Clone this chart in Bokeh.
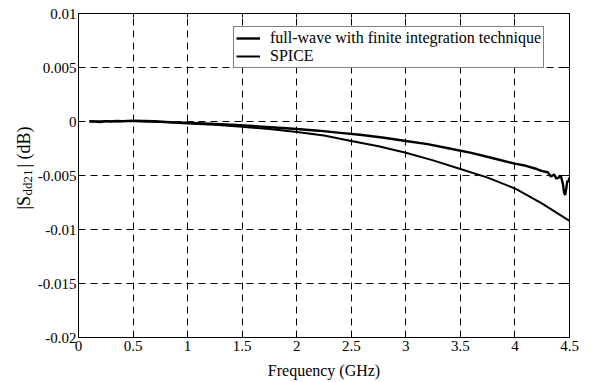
import math
from bokeh.plotting import figure
from bokeh.layouts import row
from bokeh.models import Legend, LegendItem, Label, FixedTicker, LinearAxis
from bokeh.embed import file_html
from bokeh.resources import INLINE

# Full-wave (finite integration technique) |Sdd21| in dB
fw_freq = [0.10, 0.15, 0.20, 0.25, 0.30, 0.35, 0.40, 0.50, 0.60, 0.70, 0.80, 0.90,
           1.00, 1.20, 1.40, 1.60, 1.80, 2.00, 2.20, 2.40, 2.60, 2.80, 3.00, 3.20,
           3.40, 3.60, 3.80, 4.00, 4.10, 4.20, 4.25, 4.30, 4.33, 4.36, 4.38, 4.40,
           4.42, 4.44, 4.45, 4.46, 4.47, 4.48, 4.49, 4.50]
fw_db = [0.00002, 0.00000, -0.00005, 0.00003, 0.00000, 0.00005, 0.00003, 0.00008,
         0.00005, 0.00002, -0.00003, -0.00008, -0.00012, -0.00020, -0.00030, -0.00042,
         -0.00055, -0.00070, -0.00085, -0.00105, -0.00125, -0.00150, -0.00180, -0.00210,
         -0.00250, -0.00290, -0.00340, -0.00390, -0.00410, -0.00440, -0.00460, -0.00470,
         -0.00510, -0.00490, -0.00530, -0.00520, -0.00500, -0.00580, -0.00660, -0.00680,
         -0.00620, -0.00550, -0.00560, -0.00520]

# SPICE |Sdd21| in dB
sp_freq = [0.10, 0.30, 0.50, 0.75, 1.00, 1.25, 1.50, 1.75, 2.00, 2.25, 2.50, 2.75,
           3.00, 3.25, 3.50, 3.75, 4.00, 4.25, 4.50]
sp_db = [0.0, 0.00003, 0.00003, -0.00005, -0.00018, -0.00030, -0.00048, -0.00070,
         -0.00098, -0.00130, -0.00180, -0.00230, -0.00290, -0.00360, -0.00440,
         -0.00520, -0.00620, -0.00760, -0.00920]

x_ticks = [0, 0.5, 1, 1.5, 2, 2.5, 3, 3.5, 4, 4.5]
x_tick_labels = ["0", "0.5", "1", "1.5", "2", "2.5", "3", "3.5", "4", "4.5"]
y_ticks = [0.01, 0.005, 0, -0.005, -0.01, -0.015, -0.02]
y_tick_labels = ["0.01", "0.005", "0", "-0.005", "-0.01", "-0.015", "-0.02"]

legend_labels = ["full-wave with finite integration technique", "SPICE"]
x_label = "Frequency (GHz)"
y_label_parts = ["|S", "dd21", "| (dB)"]

FONT = "Liberation Serif"

p = figure(width=557, height=382, output_backend="svg", toolbar_location=None,
           x_range=(0, 4.5), y_range=(-0.02, 0.01),
           min_border_left=43, min_border_right=22, min_border_top=13, min_border_bottom=45)
p.background_fill_color = "white"
p.border_fill_color = "white"
p.outline_line_color = "black"
p.outline_line_width = 1

r_fw = p.line(fw_freq, fw_db, line_color="black", line_width=2.4)
r_sp = p.line(sp_freq, sp_db, line_color="black", line_width=2.0)

# mirrored axes (ticks only) on top and right
p.add_layout(LinearAxis(), "above")
p.add_layout(LinearAxis(), "right")

for ax in p.xaxis + p.yaxis:
    ax.major_tick_in = 4
    ax.major_tick_out = 0
    ax.minor_tick_in = 0
    ax.minor_tick_out = 0
    ax.axis_line_color = "black"
    ax.major_tick_line_color = "black"
    ax.major_label_text_font = FONT
    ax.major_label_text_font_size = "15px"
    ax.major_label_text_color = "black"

for ax in p.xaxis:
    ax.ticker = FixedTicker(ticks=x_ticks)
for ax in p.yaxis:
    ax.ticker = FixedTicker(ticks=y_ticks)

xb = p.below[0]
xb.major_label_overrides = {t: l for t, l in zip(x_ticks, x_tick_labels)}
xb.major_label_standoff = 3
xb.axis_label = x_label
xb.axis_label_text_font = FONT
xb.axis_label_text_font_style = "normal"
xb.axis_label_text_font_size = "16px"
xb.axis_label_text_color = "black"
xb.axis_label_standoff = 8

yl = p.left[0]
yl.major_label_overrides = {t: l for t, l in zip(y_ticks, y_tick_labels)}
yl.major_label_standoff = 2

for ax in (p.above[0], p.right[0]):
    ticks = x_ticks if ax in p.above else y_ticks
    ax.major_label_overrides = {t: "" for t in ticks}
    ax.major_label_standoff = 0
    ax.major_label_text_font_size = "1px"

for g in (p.xgrid[0], p.ygrid[0]):
    g.grid_line_color = "black"
    g.grid_line_dash = "7 5"
    g.grid_line_width = 1

legend = Legend(items=[LegendItem(label=legend_labels[0], renderers=[r_fw]),
                       LegendItem(label=legend_labels[1], renderers=[r_sp])],
                location=(155, 269))
legend.border_line_color = "black"
legend.border_line_width = 1
legend.background_fill_color = "white"
legend.background_fill_alpha = 1
legend.label_text_font = FONT
legend.label_text_font_size = "16px"
legend.label_text_color = "black"
legend.padding = 2
legend.spacing = 0
legend.margin = 0
legend.glyph_width = 24
legend.glyph_height = 12
legend.label_height = 12
legend.label_standoff = 10
legend.label_text_line_height = 0.85
p.add_layout(legend, "center")

# narrow panel on the left carrying the rotated y-axis title with its subscript
lf = figure(width=34, height=382, output_backend="svg", toolbar_location=None,
            x_axis_type=None, y_axis_type=None, x_range=(0, 1), y_range=(0, 1),
            min_border=0)
lf.grid.visible = False
lf.outline_line_color = None
lf.background_fill_color = "white"
lf.border_fill_color = "white"
label_kw = dict(x_units="screen", y_units="screen", angle=math.pi / 2,
                text_font=FONT, text_color="black",
                text_align="left", text_baseline="alphabetic")
lf.add_layout(Label(x=23, y=128, text=y_label_parts[0], text_font_size="18px", **label_kw))
lf.add_layout(Label(x=27, y=142, text=y_label_parts[1], text_font_size="13px", **label_kw))
lf.add_layout(Label(x=23, y=170, text=y_label_parts[2], text_font_size="18px", **label_kw))

layout = row(lf, p)
open("out.html", "w").write(file_html(layout, INLINE))
